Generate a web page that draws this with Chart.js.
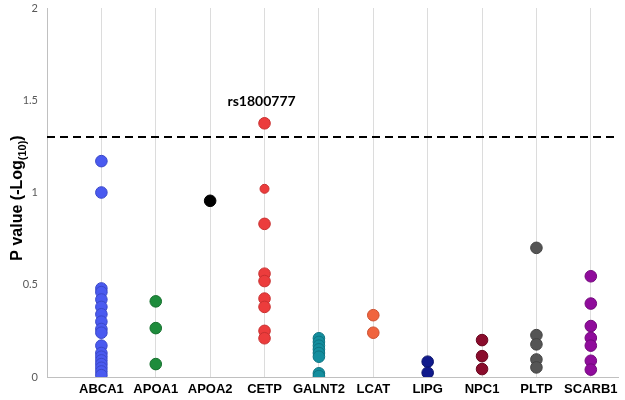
<!DOCTYPE html>
<html>
<head>
<meta charset="utf-8">
<script src="https://cdn.jsdelivr.net/npm/chart.js@4/dist/chart.umd.min.js"></script>
<style>
  html, body { margin: 0; padding: 0; background: #ffffff; }
  #wrap { width: 625px; height: 400px; position: relative; }
</style>
</head>
<body>
<div id="wrap"><canvas id="c"></canvas></div>
<script>
// ---- data ----
const genes = ["ABCA1", "APOA1", "APOA2", "CETP", "GALNT2", "LCAT", "LIPG", "NPC1", "PLTP", "SCARB1"];
const ABCA1 = [1.17, 1.0, 0.48, 0.46, 0.42, 0.38, 0.34, 0.30, 0.26, 0.24, 0.17, 0.13, 0.11, 0.09, 0.07, 0.05, 0.03, 0.01];
const APOA1 = [0.41, 0.265, 0.07];
const APOA2 = [0.955];
const CETP = [1.375, 1.02, 0.83, 0.56, 0.52, 0.425, 0.38, 0.25, 0.21];
const GALNT2 = [0.21, 0.19, 0.17, 0.15, 0.13, 0.11, 0.02, 0.005];
const LCAT = [0.335, 0.24];
const LIPG = [0.083, 0.023];
const NPC1 = [0.2, 0.113, 0.043];
const PLTP = [0.70, 0.227, 0.177, 0.095, 0.052];
const SCARB1 = [0.546, 0.398, 0.276, 0.212, 0.17, 0.088, 0.04];
const seriesValues = [ABCA1, APOA1, APOA2, CETP, GALNT2, LCAT, LIPG, NPC1, PLTP, SCARB1];
const threshold = 1.301;           // -log10(0.05)
const yTicks = [0, 0.5, 1, 1.5, 2];
const annotationText = "rs1800777";
const annotationGene = "CETP";
const annotationValue = 1.375;
const smallPointValue = 1.02;      // CETP point drawn smaller in reference

// ---- styles ----
const fillColors = ["#4a5af0", "#1e8c3c", "#000000", "#ec3c3c", "#138e9e", "#f0643e", "#101a8c", "#8a0c2c", "#555555", "#900c9c"];
const borderColors = ["#3a48c8", "#16702e", "#000000", "#c83030", "#0e7482", "#cc5030", "#0a126a", "#6a0820", "#444444", "#72087c"];

const datasets = seriesValues.map((vals, i) => ({
  type: "scatter",
  label: genes[i],
  data: vals.map(v => ({ x: i + 1, y: v })),
  backgroundColor: fillColors[i],
  borderColor: borderColors[i],
  borderWidth: 1,
  pointRadius: (ctx) => (genes[i] === annotationGene && ctx.raw && ctx.raw.y === smallPointValue) ? 4.5 : 5.8,
  pointHoverRadius: 6
}));

datasets.unshift({
  type: "line",
  label: "threshold",
  data: [{ x: 0, y: threshold }, { x: genes.length + 0.5, y: threshold }],
  borderColor: "#000000",
  borderWidth: 2,
  borderDash: [8, 5],
  pointRadius: 0,
  fill: false
});

const overlayPlugin = {
  id: "overlay",
  afterDraw(chart) {
    const ctx = chart.ctx;
    const xs = chart.scales.x, ys = chart.scales.y;
    // annotation
    ctx.save();
    ctx.fillStyle = "#000";
    ctx.font = "bold 14px Lato, 'Open Sans', sans-serif";
    ctx.textAlign = "center";
    ctx.textBaseline = "middle";
    const ax = xs.getPixelForValue(genes.indexOf(annotationGene) + 1) - 3;
    const ay = ys.getPixelForValue(annotationValue) - 22;
    ctx.fillText(annotationText, ax, ay);
    ctx.restore();

    // y axis title with subscript
    ctx.save();
    const main1 = "P value (-Log";
    const sub = "(10)";
    const main2 = ")";
    const fMain = "bold 16px 'Liberation Sans', Arial, sans-serif";
    const fSub = "bold 11px 'Liberation Sans', Arial, sans-serif";
    ctx.font = fMain;
    const w1 = ctx.measureText(main1).width;
    const w3 = ctx.measureText(main2).width;
    ctx.font = fSub;
    const w2 = ctx.measureText(sub).width;
    const total = w1 + w2 + w3;
    const cx = 18, cy = 198;
    ctx.translate(cx, cy);
    ctx.rotate(-Math.PI / 2);
    ctx.fillStyle = "#000";
    ctx.textBaseline = "middle";
    ctx.textAlign = "left";
    let x0 = -total / 2;
    ctx.font = fMain;
    ctx.fillText(main1, x0, 0);
    ctx.font = fSub;
    ctx.fillText(sub, x0 + w1, 5);
    ctx.font = fMain;
    ctx.fillText(main2, x0 + w1 + w2, 0);
    ctx.restore();
  }
};

new Chart(document.getElementById("c"), {
  data: { datasets },
  options: {
    responsive: true,
    maintainAspectRatio: false,
    animation: false,
    layout: { padding: { left: 0, right: 5, top: 8, bottom: 0 } },
    plugins: { legend: { display: false }, tooltip: { enabled: false } },
    scales: {
      x: {
        type: "linear",
        min: 0,
        max: genes.length + 0.5,
        afterBuildTicks: (scale) => { scale.ticks = genes.map((g, i) => ({ value: i + 1 })); },
        afterFit: (scale) => { scale.height = 23; scale.paddingLeft = 0; scale.paddingRight = 0; },
        ticks: {
          autoSkip: false,
          maxRotation: 0,
          padding: 5,
          color: "#000",
          font: { family: "'Liberation Sans', Arial, sans-serif", size: 13, weight: "bold" },
          callback: (v) => genes[v - 1] || ""
        },
        grid: { display: true, color: "#dcdcdc", lineWidth: 1, drawTicks: false },
        border: { display: true, color: "#c0c0c0", width: 1 }
      },
      y: {
        type: "linear",
        min: 0,
        max: 2,
        afterBuildTicks: (scale) => { scale.ticks = yTicks.map(v => ({ value: v })); },
        afterFit: (scale) => { scale.width = 47; scale.paddingTop = 0; scale.paddingBottom = 0; },
        ticks: {
          padding: 9,
          color: "#595959",
          font: { family: "Lato, 'Open Sans', sans-serif", size: 11 },
          callback: (v) => String(v)
        },
        grid: { display: false, drawTicks: false },
        border: { display: true, color: "#c0c0c0", width: 1 }
      }
    }
  },
  plugins: [overlayPlugin]
});
</script>
</body>
</html>
